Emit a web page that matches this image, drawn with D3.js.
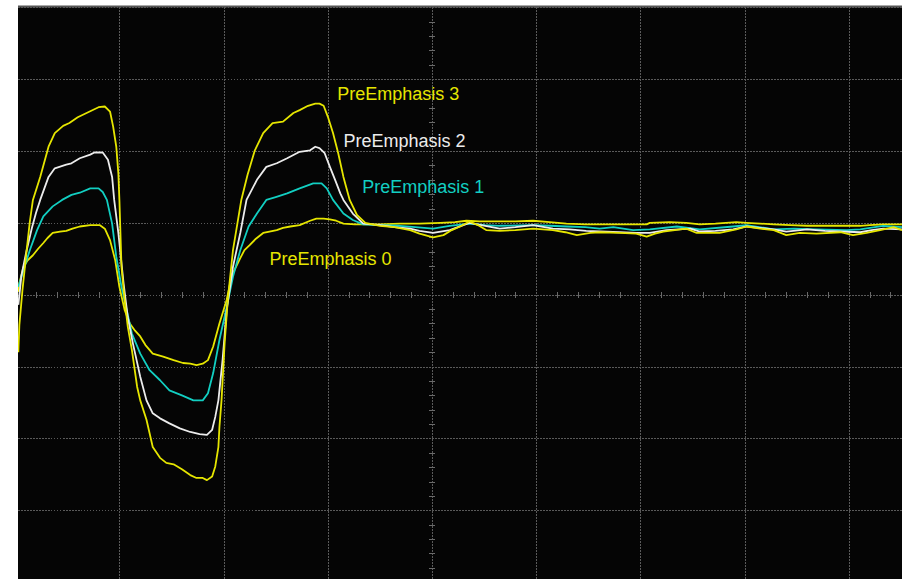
<!DOCTYPE html>
<html>
<head>
<meta charset="utf-8">
<script src="https://cdn.jsdelivr.net/npm/d3@7"></script>
<style>
  html, body { margin: 0; padding: 0; background: #ffffff; }
  svg { display: block; }
</style>
</head>
<body>
<svg id="scope" width="907" height="579"></svg>
<script>
// Horizontal: time in ps (100 ps/div). Vertical: amplitude in mV (100 mV/div).
const gridTimes  = [-400, -300, -200, -100, 0, 100, 200, 300, 400];
const gridLevels = [-300, -200, -100, 0, 100, 200, 300, 400];
const minorTimeStep = 20;
const minorLevelStep = 20;

const seriesNames = ["PreEmphasis 0", "PreEmphasis 1", "PreEmphasis 2", "PreEmphasis 3"];

// [time ps, amplitude mV]
const pe0 = [
  [-397,4],[-396,16],[-392,39],[-388,48],[-383,55],[-378,64],[-373,72],[-369,79],[-364,86],
  [-357,88],[-351,89],[-345,92],[-338,95],[-328,97],[-319,97],[-314,92],[-309,76],[-304,48],
  [-300,11],[-295,-21],[-290,-40],[-285,-50],[-280,-58],[-275,-70],[-268,-82],[-258,-86],
  [-248,-91],[-239,-95],[-232,-96],[-226,-98],[-220,-96],[-215,-91],[-210,-72],[-204,-40],
  [-197,-7],[-194,14],[-191,30],[-184,51],[-180,62],[-175,69],[-169,78],[-162,86],[-156,88],
  [-149,90],[-143,93],[-136,95],[-127,97],[-117,103],[-111,106],[-104,106],[-98,105],[-92,103],
  [-85,99],[-74,98],[-63,98],[-50,98],[-31,99],[-12,99],[8,100],[22,101],[33,103],[46,102],
  [65,102],[80,102],[97,103],[113,101],[129,99],[147,98],[161,98],[180,98],[206,98],[209,100],
  [228,101],[244,100],[257,98],[272,99],[292,101],[302,100],[315,99],[328,98],[344,97],[360,96],
  [382,96],[411,96],[420,97],[433,98],[451,98]
];

const pe1 = [
  [-397,11],[-392,34],[-386,62],[-379,90],[-373,109],[-364,123],[-355,132],[-346,139],[-338,142],
  [-328,148],[-320,148],[-316,143],[-312,132],[-307,99],[-303,53],[-298,11],[-293,-21],[-288,-54],
  [-280,-82],[-271,-105],[-261,-119],[-252,-133],[-240,-140],[-229,-147],[-220,-147],[-215,-137],
  [-210,-109],[-204,-63],[-197,-17],[-191,25],[-184,62],[-176,95],[-168,113],[-159,132],[-150,136],
  [-139,141],[-127,148],[-114,155],[-106,155],[-101,148],[-95,132],[-85,113],[-76,104],[-66,98],
  [-50,97],[-31,96],[-16,94],[1,92],[17,96],[36,99],[51,97],[65,96],[97,97],[113,96],[129,95],
  [147,94],[161,92],[174,94],[193,90],[209,91],[235,95],[257,91],[289,95],[302,97],[328,91],
  [347,92],[369,91],[398,90],[411,91],[433,96],[451,94]
];

const pe2 = [
  [-397,-14],[-394,27],[-389,62],[-384,93],[-380,114],[-376,132],[-368,164],[-362,176],[-351,181],
  [-346,183],[-338,190],[-328,195],[-324,198],[-316,198],[-311,188],[-307,164],[-305,132],[-301,86],
  [-296,16],[-292,-31],[-287,-68],[-280,-114],[-274,-147],[-268,-165],[-261,-172],[-252,-179],
  [-242,-186],[-232,-191],[-223,-194],[-216,-195],[-211,-188],[-208,-170],[-205,-147],[-201,-91],
  [-197,-21],[-191,39],[-184,86],[-178,132],[-168,160],[-159,178],[-149,183],[-139,190],[-127,199],
  [-117,201],[-112,206],[-108,204],[-103,197],[-98,178],[-93,160],[-88,141],[-85,132],[-76,113],
  [-66,99],[-50,97],[-36,94],[-21,92],[-12,89],[1,86],[17,90],[36,100],[51,96],[65,92],[80,94],
  [97,97],[116,92],[132,91],[148,89],[161,88],[180,87],[196,86],[209,86],[225,90],[248,92],
  [257,88],[272,89],[289,91],[302,95],[328,91],[340,88],[360,91],[377,89],[392,88],[411,87],
  [422,90],[433,92],[451,91]
];

const pe3 = [
  [-397,-80],[-396,-42],[-393,7],[-389,62],[-386,101],[-383,132],[-376,164],[-368,206],[-362,225],
  [-354,235],[-348,239],[-340,247],[-330,254],[-320,261],[-314,262],[-309,255],[-306,234],
  [-303,206],[-301,169],[-300,132],[-298,39],[-295,-7],[-292,-44],[-288,-77],[-283,-128],
  [-280,-147],[-274,-174],[-268,-212],[-261,-227],[-255,-234],[-248,-236],[-240,-243],[-232,-251],
  [-226,-255],[-220,-255],[-216,-258],[-211,-253],[-208,-239],[-205,-212],[-204,-184],[-202,-147],
  [-199,-67],[-196,-7],[-191,62],[-183,132],[-177,167],[-170,201],[-162,225],[-153,239],[-143,241],
  [-133,253],[-127,257],[-119,263],[-112,266],[-108,266],[-104,263],[-100,248],[-95,225],[-90,197],
  [-85,164],[-79,132],[-72,111],[-64,100],[-50,96],[-36,94],[-21,90],[-12,85],[1,80],[11,83],
  [19,90],[27,95],[36,102],[44,97],[52,90],[65,89],[80,90],[97,92],[116,90],[128,87],[139,83],
  [152,86],[161,87],[180,86],[196,85],[206,81],[214,85],[222,88],[233,90],[244,92],[254,86],
  [267,86],[276,86],[292,91],[302,95],[315,92],[328,90],[340,83],[353,86],[369,85],[392,87],
  [404,83],[417,86],[430,90],[443,94],[451,90]
];

// Trace and label styling
const traces = [
  { name: seriesNames[0], data: pe0, color: "#e6e600", label: [-156, 41] },
  { name: seriesNames[1], data: pe1, color: "#12cfc2", label: [-67, 142] },
  { name: seriesNames[2], data: pe2, color: "#ececec", label: [-85, 205] },
  { name: seriesNames[3], data: pe3, color: "#e6e600", label: [-91, 271] }
];

const svg = d3.select("#scope");

// Screen layout (pixels)
const screen = { left: 18, right: 902, top: 7, bottom: 579 };
const center = { x: 432, y: 294.75 };
const divW = 104.2, divH = 71.85;

const x = d3.scaleLinear().domain([-500, 500]).range([center.x - 5 * divW, center.x + 5 * divW]);
const y = d3.scaleLinear().domain([-400, 400]).range([center.y + 4 * divH, center.y - 4 * divH]);

svg.append("defs").append("clipPath").attr("id", "screenClip")
  .append("rect")
  .attr("x", screen.left).attr("y", screen.top)
  .attr("width", screen.right - screen.left).attr("height", screen.bottom - screen.top);

// Display background
svg.append("rect")
  .attr("x", screen.left).attr("y", screen.top)
  .attr("width", screen.right - screen.left).attr("height", screen.bottom - screen.top)
  .attr("fill", "#050505");

const g = svg.append("g").attr("clip-path", "url(#screenClip)");

// Dotted graticule via axes
const gridX = g.append("g")
  .attr("transform", `translate(0,${screen.top})`)
  .call(d3.axisBottom(x).tickValues(gridTimes).tickSize(screen.bottom - screen.top).tickFormat(""));
const gridY = g.append("g")
  .attr("transform", `translate(${screen.left},0)`)
  .call(d3.axisRight(y).tickValues(gridLevels).tickSize(screen.right - screen.left).tickFormat(""));
[gridX, gridY].forEach(a => {
  a.select(".domain").remove();
  a.selectAll(".tick line")
    .attr("stroke", "#5a5a5a")
    .attr("stroke-width", 1)
    .attr("stroke-dasharray", "1.5,1.5")
    .attr("shape-rendering", "crispEdges");
});

// Minor ticks along the centre cross
const minorTimes = d3.range(-500, 500 + 1, minorTimeStep).filter(t => t % 100 !== 0);
const minorLevels = d3.range(-400, 400 + 1, minorLevelStep).filter(v => v % 100 !== 0);

const mx = g.append("g")
  .attr("transform", `translate(0,${y(0)})`)
  .call(d3.axisBottom(x).tickValues(minorTimes).tickSize(3).tickFormat(""));
mx.selectAll(".tick line").attr("y1", -3).attr("y2", 3);
const my = g.append("g")
  .attr("transform", `translate(${x(0)},0)`)
  .call(d3.axisRight(y).tickValues(minorLevels).tickSize(3).tickFormat(""));
my.selectAll(".tick line").attr("x1", -3).attr("x2", 3);
[mx, my].forEach(a => {
  a.select(".domain").remove();
  a.selectAll(".tick line")
    .attr("stroke", "#6a6a6a")
    .attr("stroke-width", 1)
    .attr("shape-rendering", "crispEdges");
});

// Top bezel edge
svg.append("line")
  .attr("x1", screen.left).attr("x2", screen.right)
  .attr("y1", screen.top - 0.5).attr("y2", screen.top - 0.5)
  .attr("stroke", "#555555").attr("stroke-width", 2);

// Traces
const line = d3.line().x(d => x(d[0])).y(d => y(d[1])).curve(d3.curveLinear);
g.selectAll("path.trace")
  .data(traces)
  .join("path")
  .attr("class", "trace")
  .attr("d", d => line(d.data))
  .attr("fill", "none")
  .attr("stroke", d => d.color)
  .attr("stroke-width", 1.8)
  .attr("stroke-linejoin", "round");

// Trace labels
g.selectAll("text.label")
  .data(traces)
  .join("text")
  .attr("class", "label")
  .attr("x", d => x(d.label[0]))
  .attr("y", d => y(d.label[1]))
  .attr("fill", d => d.color)
  .attr("font-family", "'Liberation Sans', Arial, sans-serif")
  .attr("font-size", 18)
  .text(d => d.name);
</script>
</body>
</html>
